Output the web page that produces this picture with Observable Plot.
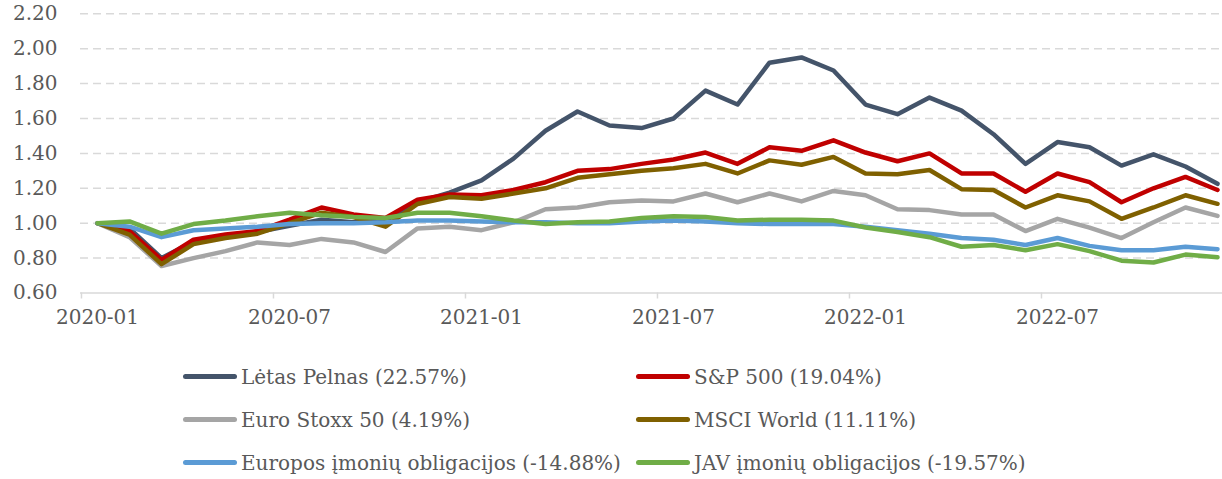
<!DOCTYPE html>
<html>
<head>
<meta charset="utf-8">
<script src="https://cdn.jsdelivr.net/npm/d3@7"></script>
<script src="https://cdn.jsdelivr.net/npm/@observablehq/plot@0.6"></script>
<style>
  html, body { margin: 0; padding: 0; background: #fff; }
  #chart svg { display: block; }
  .legend { display: grid; grid-template-columns: 453px auto; margin-left: 183px; margin-top: 20px; row-gap: 0; }
  .item { display: flex; align-items: center; height: 43px; font-family: "DejaVu Serif", serif; font-size: 20px; color: #595959; white-space: nowrap; }
  .sw { width: 54px; height: 5px; border-radius: 3px; margin-right: 4px; flex: none; }
</style>
</head>
<body>
<div id="chart"></div>
<div class="legend" id="legend"></div>
<script>
const months = [
  "2020-01","2020-02","2020-03","2020-04","2020-05","2020-06","2020-07","2020-08","2020-09","2020-10","2020-11","2020-12",
  "2021-01","2021-02","2021-03","2021-04","2021-05","2021-06","2021-07","2021-08","2021-09","2021-10","2021-11","2021-12",
  "2022-01","2022-02","2022-03","2022-04","2022-05","2022-06","2022-07","2022-08","2022-09","2022-10","2022-11","2022-12"
];
const tickMonths = ["2020-01","2020-07","2021-01","2021-07","2022-01","2022-07"];
const yTicks = [0.6, 0.8, 1.0, 1.2, 1.4, 1.6, 1.8, 2.0, 2.2];

const seriesNames = [
  "Lėtas Pelnas (22.57%)",
  "S&P 500 (19.04%)",
  "Euro Stoxx 50 (4.19%)",
  "MSCI World (11.11%)",
  "Europos įmonių obligacijos (-14.88%)",
  "JAV įmonių obligacijos (-19.57%)"
];
const seriesColors = ["#44546a", "#c00000", "#a5a5a5", "#7f6000", "#5b9bd5", "#70ad47"];

const letasPelnas = [1.00, 0.97, 0.80, 0.895, 0.93, 0.95, 0.985, 1.02, 1.005, 1.015, 1.12, 1.175,
  1.245, 1.37, 1.53, 1.64, 1.56, 1.545, 1.60, 1.76, 1.68, 1.92, 1.95, 1.875,
  1.68, 1.625, 1.72, 1.645, 1.51, 1.34, 1.465, 1.435, 1.33, 1.395, 1.325, 1.2257];
const sp500 = [1.00, 0.955, 0.79, 0.905, 0.935, 0.955, 1.02, 1.09, 1.05, 1.03, 1.135, 1.165,
  1.16, 1.19, 1.235, 1.30, 1.31, 1.34, 1.365, 1.405, 1.34, 1.435, 1.415, 1.475,
  1.405, 1.355, 1.40, 1.285, 1.285, 1.18, 1.285, 1.235, 1.12, 1.20, 1.265, 1.1904];
const euroStoxx = [1.00, 0.92, 0.755, 0.80, 0.84, 0.89, 0.875, 0.91, 0.89, 0.835, 0.97, 0.98,
  0.96, 1.005, 1.08, 1.09, 1.12, 1.13, 1.125, 1.17, 1.12, 1.17, 1.125, 1.185,
  1.16, 1.08, 1.075, 1.05, 1.05, 0.955, 1.025, 0.975, 0.915, 1.005, 1.09, 1.0419];
const msciWorld = [1.00, 0.935, 0.765, 0.88, 0.915, 0.94, 1.00, 1.06, 1.035, 0.98, 1.11, 1.15,
  1.14, 1.17, 1.20, 1.26, 1.28, 1.30, 1.315, 1.34, 1.285, 1.36, 1.335, 1.38,
  1.285, 1.28, 1.305, 1.195, 1.19, 1.09, 1.16, 1.125, 1.025, 1.09, 1.16, 1.1111];
const europosObl = [1.00, 0.98, 0.92, 0.96, 0.97, 0.98, 0.995, 1.00, 1.00, 1.005, 1.015, 1.015,
  1.01, 1.005, 1.005, 1.00, 1.00, 1.01, 1.015, 1.01, 1.00, 0.995, 0.995, 0.995,
  0.98, 0.96, 0.94, 0.915, 0.905, 0.875, 0.915, 0.87, 0.845, 0.845, 0.865, 0.8512];
const javObl = [1.00, 1.01, 0.94, 0.995, 1.015, 1.04, 1.06, 1.045, 1.035, 1.03, 1.06, 1.06,
  1.04, 1.015, 0.995, 1.005, 1.01, 1.03, 1.04, 1.035, 1.015, 1.02, 1.02, 1.015,
  0.975, 0.95, 0.92, 0.865, 0.875, 0.845, 0.88, 0.84, 0.785, 0.775, 0.82, 0.8043];

const seriesValues = [letasPelnas, sp500, euroStoxx, msciWorld, europosObl, javObl];

const data = [];
seriesNames.forEach((name, s) => {
  seriesValues[s].forEach((v, i) => data.push({series: name, month: months[i], value: v}));
});

const W = 1222, H = 335;
const xRange = [80, 1234];
const halfStep = (xRange[1] - xRange[0]) / months.length / 2;
const font = '"DejaVu Serif", serif';

const chart = Plot.plot({
  width: W,
  height: H,
  marginLeft: 80,
  marginRight: 0,
  marginTop: 13,
  marginBottom: 42.5,
  style: {fontFamily: font, fontSize: "20px", color: "#595959", background: "#fff"},
  x: {type: "point", domain: months, range: xRange, padding: 0.5, label: null},
  y: {domain: [0.6, 2.2], range: [292.5, 13.3], label: null},
  color: {domain: seriesNames, range: seriesColors},
  marks: [
    Plot.gridY(yTicks.filter(d => d > 0.6), {stroke: "#d9d9d9", strokeOpacity: 1, strokeWidth: 1.5, strokeDasharray: "8,5"}),
    Plot.ruleY([0.6], {stroke: "#d9d9d9", strokeWidth: 1.5}),
    Plot.axisX({ticks: tickMonths, tickSize: 6, tickFormat: () => "", label: null, stroke: "#d9d9d9", strokeWidth: 1.5, dx: -halfStep}),
    Plot.axisX({ticks: tickMonths, tickSize: 0, tickPadding: 17, label: null, fill: "#595959", fontSize: 20}),
    Plot.axisY({ticks: yTicks, tickSize: 0, tickPadding: 23, label: null, tickFormat: d => d.toFixed(2), fill: "#595959", fontSize: 20}),
    Plot.line(data, {x: "month", y: "value", z: "series", stroke: "series", strokeWidth: 4.5, strokeLinejoin: "round", strokeLinecap: "round"})
  ]
});
document.getElementById("chart").appendChild(chart);

const legend = document.getElementById("legend");
seriesNames.forEach((name, i) => {
  const item = document.createElement("div");
  item.className = "item";
  const sw = document.createElement("span");
  sw.className = "sw";
  sw.style.background = seriesColors[i];
  const t = document.createElement("span");
  t.textContent = name;
  item.appendChild(sw);
  item.appendChild(t);
  legend.appendChild(item);
});
</script>
</body>
</html>
